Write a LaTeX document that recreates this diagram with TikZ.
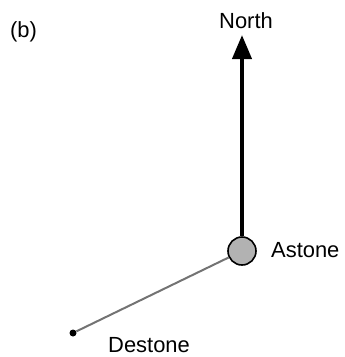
\documentclass[tikz,border=0pt]{standalone}
\usepackage{fontspec}
\setmainfont{Liberation Sans}
\usetikzlibrary{arrows.meta}
\begin{document}
\begin{tikzpicture}[x=1bp,y=-1bp,
  lbl/.style={font=\fontsize{22}{24}\selectfont, inner sep=0pt, text=black},
  hub/.style={circle, draw=black, line width=1.6bp, fill=black!30, minimum size=28bp, inner sep=0pt},
  endpt/.style={circle, fill=black, minimum size=7bp, inner sep=0pt},
  heading/.style={line width=4bp, -{Triangle[length=24bp,width=19bp]}},
  link/.style={line width=2bp, draw=black!55}]
\useasboundingbox (0,0) rectangle (345,357);
\node[lbl, anchor=west] (blabel) at (10,32) {(b)};
\node[hub] (astone) at (242,251) {};
\node[endpt] (destone) at (73,333) {};
\coordinate (tip) at (242,35);
\node[lbl] (north) at (246,21) {North};
\node[lbl, anchor=west] (astonelbl) at (271,250) {Astone};
\node[lbl, anchor=west] (destonelbl) at (108,345) {Destone};
\draw[heading] (astone.north) -- (tip);
\draw[link] (destone) -- (astone);
\end{tikzpicture}
\end{document}
